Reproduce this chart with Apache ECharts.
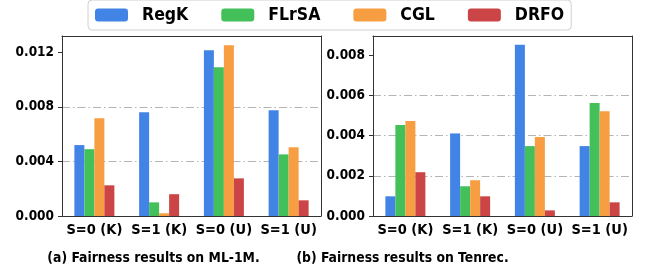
<!DOCTYPE html>
<html>
<head>
<meta charset="utf-8">
<script src="https://cdn.jsdelivr.net/npm/echarts@6/dist/echarts.min.js"></script>
<style>
  html, body { margin: 0; padding: 0; background: #fff; }
  #chart { width: 652px; height: 277px; }
</style>
</head>
<body>
<div id="chart"></div>
<script>
// 分组类别
var categories = ['S=0 (K)', 'S=1 (K)', 'S=0 (U)', 'S=1 (U)'];
var methods = ['RegK', 'FLrSA', 'CGL', 'DRFO'];
var colors = ['#4184e6', '#44c05a', '#f89e42', '#cc4546'];

// (a) ML-1M
var ml1mRegK = [0.0052, 0.0076, 0.01215, 0.00775];
var ml1mFLrSA = [0.0049, 0.0010, 0.0109, 0.00452];
var ml1mCGL = [0.00716, 0.0002, 0.01252, 0.00504];
var ml1mDRFO = [0.00225, 0.0016, 0.00276, 0.00115];

// (b) Tenrec
var tenrecRegK = [0.00098, 0.00411, 0.00852, 0.00348];
var tenrecFLrSA = [0.00453, 0.00148, 0.00348, 0.00562];
var tenrecCGL = [0.00473, 0.00178, 0.00393, 0.00522];
var tenrecDRFO = [0.00218, 0.00098, 0.00028, 0.00068];

var ml1mTicks = [0, 0.004, 0.008, 0.012];
var tenrecTicks = [0, 0.002, 0.004, 0.006, 0.008];

var font = 'DejaVu Sans Condensed';

function makeSeries(dataList, idx) {
    return dataList.map(function (d, i) {
        return {
            name: methods[i],
            type: 'bar',
            xAxisIndex: idx,
            yAxisIndex: idx,
            data: d,
            barWidth: 10,
            barGap: '0%',
            itemStyle: { color: colors[i] }
        };
    });
}

function xAxisFor(idx) {
    return {
        type: 'category',
        gridIndex: idx,
        data: categories,
        axisLine: { lineStyle: { color: '#333', width: 1 } },
        axisTick: { alignWithLabel: true, length: 4, lineStyle: { color: '#333' } },
        axisLabel: {
            interval: 0,
            color: '#000', fontFamily: font, fontWeight: 'bold', fontSize: 14.5, margin: 7
        }
    };
}

// 上边框
function frameX(idx) {
    return {
        type: 'category', gridIndex: idx, position: 'top', data: categories,
        axisLine: { onZero: false, lineStyle: { color: '#333', width: 1 } },
        axisTick: { show: false }, axisLabel: { show: false }, splitLine: { show: false }
    };
}

function yAxisFor(idx, max, interval, ticks) {
    return {
        type: 'value',
        gridIndex: idx,
        min: 0,
        max: max,
        interval: interval,
        axisLine: { show: true, lineStyle: { color: '#333', width: 1 } },
        axisTick: { show: true, length: 4, customValues: ticks, lineStyle: { color: '#333' } },
        axisLabel: {
            color: '#000', fontFamily: font, fontWeight: 'bold', fontSize: 13.5, margin: 8,
            customValues: ticks,
            formatter: function (v) { return v.toFixed(3); }
        },
        splitLine: {
            show: true, showMinLine: false, showMaxLine: false,
            lineStyle: { color: '#b4b4b4', width: 1, type: [8, 3, 1.5, 3] }
        }
    };
}

// 右边框
function frameY(idx, max) {
    return {
        type: 'value', gridIndex: idx, position: 'right', min: 0, max: max,
        axisLine: { show: true, onZero: false, lineStyle: { color: '#333', width: 1 } },
        axisTick: { show: false }, axisLabel: { show: false }, splitLine: { show: false }
    };
}

var chart = echarts.init(document.getElementById('chart'));
var series = makeSeries([ml1mRegK, ml1mFLrSA, ml1mCGL, ml1mDRFO], 0)
    .concat(makeSeries([tenrecRegK, tenrecFLrSA, tenrecCGL, tenrecDRFO], 1));

chart.setOption({
    animation: false,
    legend: {
        data: methods,
        left: 88,
        top: 0,
        itemWidth: 33,
        itemHeight: 13,
        itemGap: 33,
        padding: [6, 7, 6, 7],
        borderColor: '#d0d0d0',
        borderWidth: 1,
        borderRadius: 4,
        backgroundColor: '#fff',
        textStyle: {
            color: '#000', fontFamily: font, fontWeight: 'bold', fontSize: 17.5,
            padding: [0, 0, 0, 9]
        }
    },
    grid: [
        { left: 62, top: 36, width: 259, height: 180 },
        { left: 373, top: 36, width: 259, height: 180 }
    ],
    xAxis: [xAxisFor(0), xAxisFor(1), frameX(0), frameX(1)],
    yAxis: [
        yAxisFor(0, 0.0132, 0.004, ml1mTicks),
        yAxisFor(1, 0.00896, 0.002, tenrecTicks),
        frameY(0, 0.0132),
        frameY(1, 0.00896)
    ],
    graphic: [
        {
            type: 'text', x: 153.5, y: 258,
            style: {
                text: '(a) Fairness results on ML-1M.', fill: '#000',
                font: 'bold 13.8px "DejaVu Sans Condensed"',
                align: 'center', verticalAlign: 'middle'
            }
        },
        {
            type: 'text', x: 402.5, y: 258,
            style: {
                text: '(b) Fairness results on Tenrec.', fill: '#000',
                font: 'bold 13.8px "DejaVu Sans Condensed"',
                align: 'center', verticalAlign: 'middle'
            }
        }
    ],
    series: series
});
</script>
</body>
</html>
